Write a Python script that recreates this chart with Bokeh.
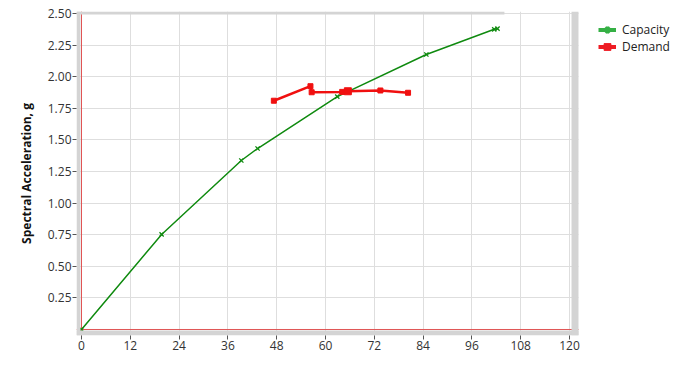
import numpy as np
from bokeh.plotting import figure
from bokeh.models import (Range1d, Span, Legend, LegendItem, Label,
                          FixedTicker, ColumnDataSource, CustomJSTickFormatter)
from bokeh.embed import file_html
from bokeh.resources import INLINE

# ---- data ----
cap_sd = [0.0, 19.7, 39.3, 43.3, 62.9, 84.8, 101.5, 102.3]
cap_sa = [0.0, 0.752, 1.337, 1.432, 1.843, 2.176, 2.375, 2.38]
dem_sd = [47.3, 56.3, 56.6, 64.1, 65.5, 73.5, 80.3]
dem_sa = [1.81, 1.925, 1.877, 1.880, 1.885, 1.891, 1.873]
perf_sd = [65.5]
perf_sa = [1.885]
x_ticks = [0, 12, 24, 36, 48, 60, 72, 84, 96, 108, 120]
y_ticks = [0.25, 0.5, 0.75, 1.0, 1.25, 1.5, 1.75, 2.0, 2.25, 2.5]

# plot frame (frame extends under the legend area; right part is masked white)
X0, X1 = -1.23, 146.56
Y0, Y1 = -0.0475, 2.516
XR = 122.21  # outer edge of right gray band

FONT = "Open Sans"

p = figure(width=677, height=372, output_backend="svg", toolbar_location=None,
           x_range=Range1d(X0, X1), y_range=Range1d(Y0, Y1),
           min_border_left=76, min_border_right=0, min_border_top=11, min_border_bottom=37)
p.outline_line_color = None
p.background_fill_color = "white"
p.border_fill_color = "white"

# grid
p.xgrid.ticker = FixedTicker(ticks=x_ticks)
p.ygrid.ticker = FixedTicker(ticks=y_ticks)
p.grid.grid_line_color = "#dedede"
p.grid.grid_line_width = 1

# axes
p.xaxis.ticker = FixedTicker(ticks=x_ticks)
p.yaxis.ticker = FixedTicker(ticks=y_ticks)
p.yaxis.formatter = CustomJSTickFormatter(code="return tick.toFixed(2);")
for ax in (p.xaxis, p.yaxis):
    ax.axis_line_color = None
    ax.major_tick_line_color = "#555555"
    ax.major_tick_out = 4
    ax.major_tick_in = 0
    ax.minor_tick_line_color = None
    ax.major_label_text_font = FONT
    ax.major_label_text_font_size = "12px"
    ax.major_label_text_color = "#333333"
p.xaxis.major_label_standoff = 1
p.yaxis.major_label_standoff = 1
p.yaxis.axis_label = "Spectral Acceleration, g"
p.yaxis.axis_label_text_font = FONT
p.yaxis.axis_label_text_font_style = "bold"
p.yaxis.axis_label_text_font_size = "12px"
p.yaxis.axis_label_text_color = "#111111"
p.yaxis.axis_label_standoff = 10

# red zero lines
p.add_layout(Span(location=0, dimension="height", line_color="#e05555", line_width=1, level="underlay"))
p.add_layout(Span(location=0, dimension="width", line_color="#e05555", line_width=1, level="underlay"))

# data
cap = ColumnDataSource(dict(x=cap_sd, y=cap_sa))
dem = ColumnDataSource(dict(x=dem_sd, y=dem_sa))
perf = ColumnDataSource(dict(x=perf_sd, y=perf_sa))
p.line("x", "y", source=cap, line_color="#0f8a0f", line_width=1.5)
p.scatter("x", "y", source=cap, marker="x", size=6, line_color="#0f8a0f", line_width=1.3)
p.line("x", "y", source=dem, line_color="#f01010", line_width=2.5)
p.scatter("x", "y", source=dem, marker="square", size=5, fill_color="#f01010", line_color="#f01010")
p.scatter("x", "y", source=perf, marker="square", size=7, fill_color="#f01010", line_color="#f01010")

# gray frame bands + white mask right of the plot area
band_col = "#d4d4d4"
p.quad(left=[XR], right=[X1], bottom=[Y0], top=[Y1], fill_color="white", line_color=None)
p.quad(left=[X0], right=[-0.25], bottom=[Y0], top=[Y1], fill_color=band_col, line_color=None)
p.quad(left=[X0], right=[XR], bottom=[Y0], top=[-0.008], fill_color=band_col, line_color=None)
p.quad(left=[120.5], right=[XR], bottom=[Y0], top=[Y1], fill_color=band_col, line_color=None)
p.quad(left=[X0], right=[104.0], bottom=[2.492], top=[Y1], fill_color=band_col, line_color=None)

# legend proxies (NaN data: nothing drawn in the plot, only legend glyphs)
proxy = ColumnDataSource(dict(x=np.array([np.nan]), y=np.array([np.nan])))
lg1 = p.line("x", "y", source=proxy, line_color="#35b045", line_width=4)
ls1 = p.scatter("x", "y", source=proxy, marker="asterisk", size=11,
                line_color="#35b045", line_width=3.5)
lg2 = p.line("x", "y", source=proxy, line_color="#ee1c24", line_width=4)
ls2 = p.scatter("x", "y", source=proxy, marker="square", size=8,
                fill_color="#ee1c24", line_color="#ee1c24")
legend = Legend(items=[LegendItem(label="Capacity", renderers=[lg1, ls1]),
                       LegendItem(label="Demand", renderers=[lg2, ls2])],
                location=(522, 280), margin=0, padding=0, spacing=0,
                glyph_width=18, glyph_height=17, label_height=17,
                label_standoff=6, border_line_color=None, background_fill_alpha=0,
                label_text_font=FONT, label_text_font_size="12px",
                label_text_color="#222222")
p.add_layout(legend)

# x axis title
p.add_layout(Label(x=186, y=-29, x_units="screen", y_units="screen",
                   text="Spectral Displacement, mm", text_align="center",
                   text_baseline="middle", text_font=FONT, text_font_style="bold",
                   text_font_size="12px", text_color="#111111"))

open("out.html", "w").write(file_html(p, INLINE))
